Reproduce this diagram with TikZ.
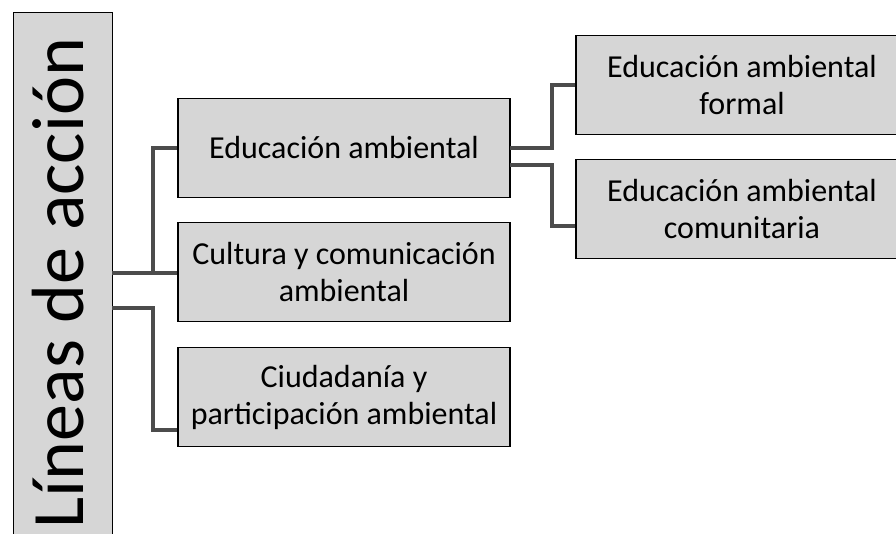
\documentclass[tikz,border=0pt]{standalone}
\usepackage{fontspec}
\setmainfont{Carlito}
\usepackage{xcolor}
\usetikzlibrary{calc}

\definecolor{gris}{gray}{0.84}
\definecolor{linea}{gray}{0.3}

\tikzset{
    caja/.style={draw=black, line width=1.5pt, fill=gris, inner sep=0pt,
        minimum width=332pt, minimum height=99pt, align=center,
        font=\fontsize{32}{37}\selectfont},
    conector/.style={draw=linea, line width=3.6pt},
}

\begin{document}
\begin{tikzpicture}[x=1pt,y=-1pt]
\clip (0,0) rectangle (896,533);
\fill[white] (0,0) rectangle (896,533);

% raiz
\node[caja, minimum width=99pt, minimum height=545pt] (raiz) at (63,285) {};
\node[rotate=90, anchor=base, font=\fontsize{74}{80}\selectfont] (titulo) at (83,283) {Líneas de acción};

% lineas de accion
\node[caja] (edu) at (344,148) {Educación ambiental};
\node[caja] (cul) at (344,272) {Cultura y comunicación\\ambiental};
\node[caja] (ciu) at (344,397) {Ciudadanía y\\participación ambiental};

% educacion ambiental
\node[caja] (for) at (742,85) {Educación ambiental\\formal};
\node[caja] (com) at (742,209) {Educación ambiental\\comunitaria};

\coordinate (ra) at (112,273);
\coordinate (rb) at (112,308);
\coordinate (bus) at (153,0);
\coordinate (ea) at (510,148);
\coordinate (eb) at (510,165);
\coordinate (bus2) at (552,0);
\coordinate (ciu-in) at ($(ciu.west)+(0,33)$);
\coordinate (com-in) at ($(com.west)+(0,17)$);

\draw[conector] (ra) -| (bus |- edu.west) -- (edu.west);
\draw[conector] (ra) -- (ra -| cul.west);
\draw[conector] (rb) -| (bus |- ciu-in) -- (ciu-in);
\draw[conector] (ea) -| (bus2 |- for.west) -- (for.west);
\draw[conector] (eb) -| (bus2 |- com-in) -- (com-in);
\end{tikzpicture}
\end{document}
